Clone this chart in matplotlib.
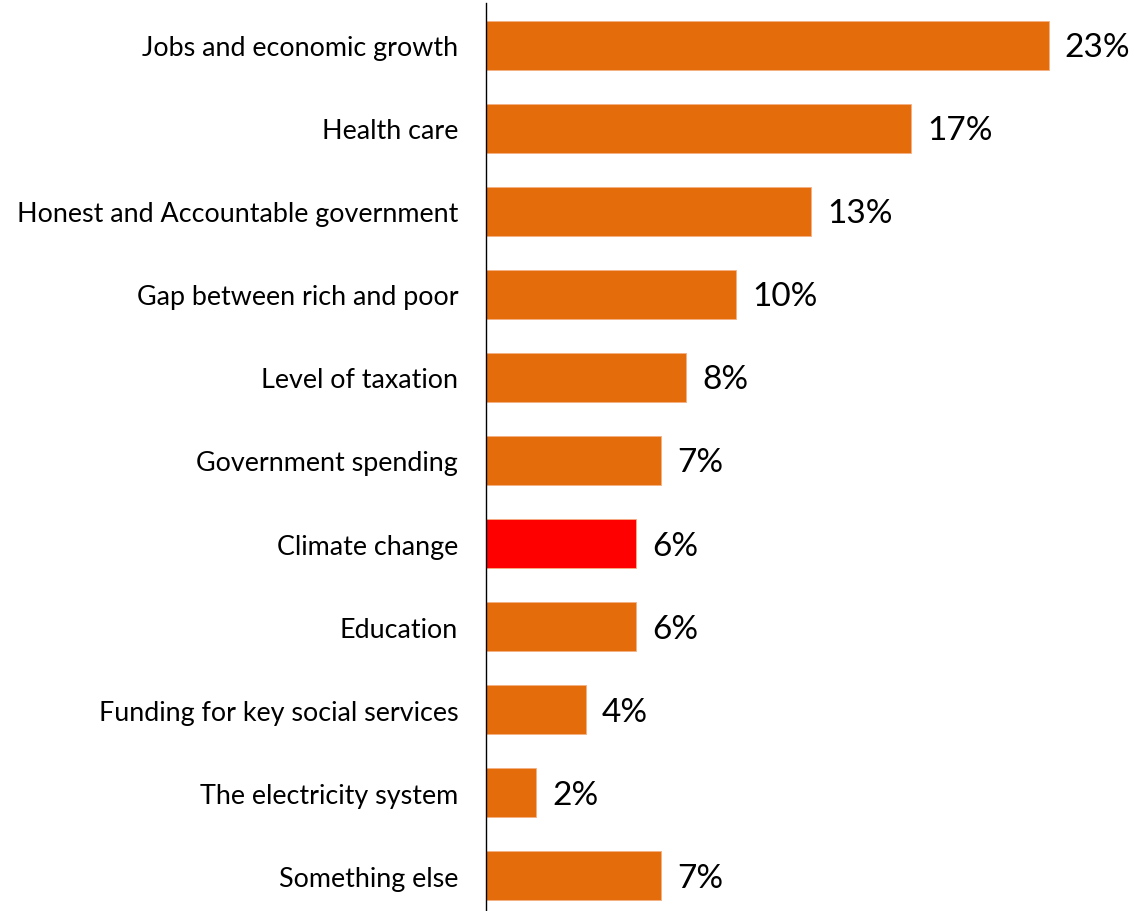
import matplotlib
matplotlib.use("Agg")
import matplotlib.pyplot as plt

categories = ["Jobs and economic growth", "Health care", "Honest and Accountable government",
              "Gap between rich and poor", "Level of taxation", "Government spending",
              "Climate change", "Education", "Funding for key social services",
              "The electricity system", "Something else"]
values = [22.5, 17.0, 13.0, 10.0, 8.0, 7.0, 6.0, 6.0, 4.0, 2.0, 7.0]
value_labels = ["23%", "17%", "13%", "10%", "8%", "7%", "6%", "6%", "4%", "2%", "7%"]
highlight = "Climate change"

ORANGE = "#E46C0A"
RED = "#FF0000"

plt.rcParams['font.family'] = ['Lato', 'DejaVu Sans']

W, H = 1134, 912
fig = plt.figure(figsize=(W / 100, H / 100), dpi=100)
xmax = 25.9
px_per_unit = 25.0
left = 486 / W
width = xmax * px_per_unit / W
top_px, bot_px = 4.5, 918.5
ax = fig.add_axes([left, 1 - bot_px / H, width, (bot_px - top_px) / H])

n = len(categories)
ypos = list(range(n))
colors = [RED if c == highlight else ORANGE for c in categories]
ax.barh(ypos, values, height=0.59, color=colors, edgecolor="#F4B183", linewidth=0.6)
ax.set_ylim(n - 0.5, -0.5)
ax.set_xlim(0, xmax)
ax.set_yticks(ypos)
ax.set_yticklabels(categories, fontsize=19.4)
ax.tick_params(axis='y', length=0, pad=20)
ax.set_xticks([])
for s in ["top", "right", "bottom"]:
    ax.spines[s].set_visible(False)
ax.spines["left"].set_linewidth(1.0)
ax.spines["left"].set_color("black")

for y, v, lab in zip(ypos, values, value_labels):
    ax.annotate(lab, xy=(v, y), xytext=(16, -2), textcoords="offset pixels",
                va="center", ha="left", fontsize=24)

fig.savefig("out.png", dpi=100)
